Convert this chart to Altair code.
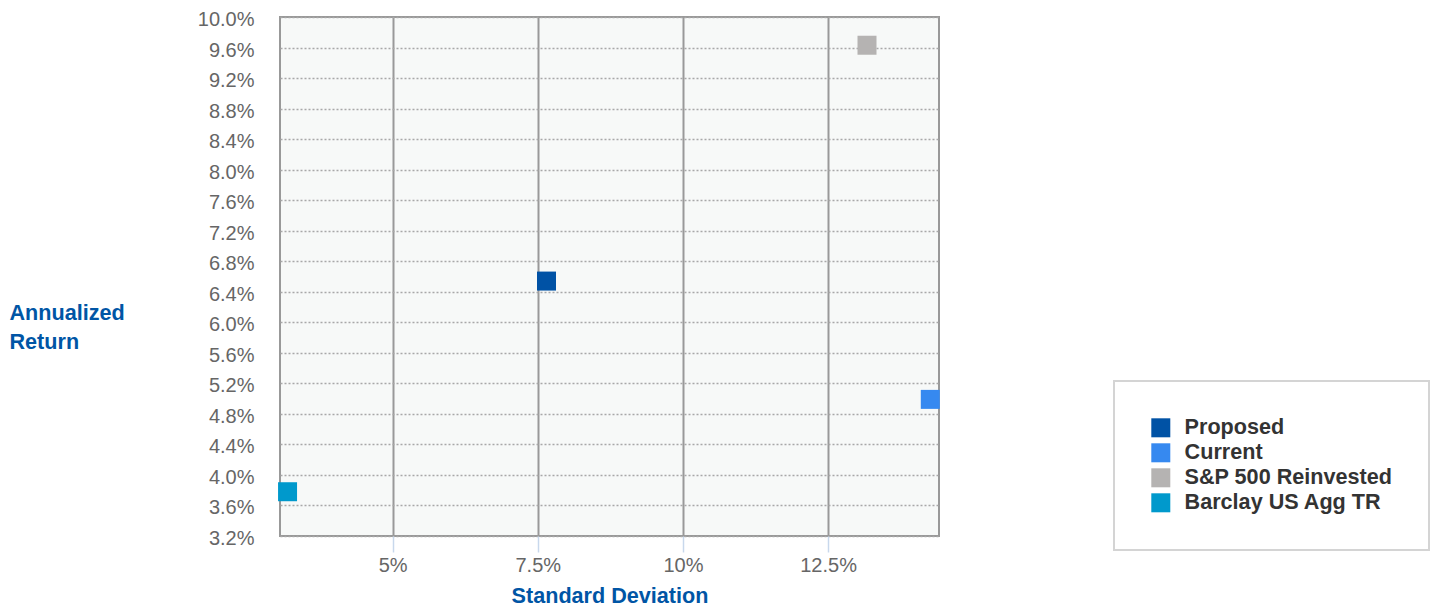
import altair as alt
import pandas as pd

names = ["Proposed", "Current", "S&P 500 Reinvested", "Barclay US Agg TR"]
std_dev = [7.65, 14.26, 13.17, 3.19]
annual_return = [6.54, 4.99, 9.63, 3.78]
colors = ["#0052A5", "#3689F0", "#B5B3B2", "#0099CC"]

y_ticks = [3.2, 3.6, 4.0, 4.4, 4.8, 5.2, 5.6, 6.0, 6.4, 6.8, 7.2, 7.6, 8.0,
           8.4, 8.8, 9.2, 9.6, 10.0]
x_ticks = [5, 7.5, 10, 12.5]

df = pd.DataFrame({"name": names, "sd": std_dev, "ret": annual_return})

FONT = "Liberation Sans"

chart = alt.Chart(df).mark_square(size=361, opacity=1, strokeWidth=0).encode(
    x=alt.X("sd:Q", scale=alt.Scale(domain=[3.06, 14.41], nice=False, zero=False),
            axis=alt.Axis(values=x_ticks, labelExpr="datum.value + '%'",
                          title="Standard Deviation", titleFont=FONT, titleFontSize=21.6,
                          titleFontWeight="bold", titleColor="#0055A5",
                          titleBaseline="alphabetic", titleY=66,
                          labelFont=FONT, labelFontSize=20, labelColor="#666666",
                          labelPadding=3, tickSize=16, tickColor="#C8D8EC", tickWidth=1.5,
                          domain=False, grid=True, gridColor="#999999", gridWidth=2)),
    y=alt.Y("ret:Q", scale=alt.Scale(domain=[3.2, 10.0], nice=False, zero=False),
            axis=alt.Axis(values=y_ticks, labelExpr="format(datum.value, '.1f') + '%'",
                          title=["Annualized", "Return"], titleFont=FONT, titleFontSize=21.6,
                          titleFontWeight="bold", titleColor="#0055A5", titleAngle=0,
                          titleAlign="left", titleBaseline="alphabetic", titleX=-271,
                          titleY=302, titleLineHeight=29,
                          labelFont=FONT, labelFontSize=20, labelColor="#666666",
                          labelPadding=26, labelOffset=2.5, ticks=False, domain=False,
                          grid=True, gridColor="#A8A8A8", gridWidth=1.5, gridDash=[2, 2])),
    color=alt.Color("name:N", scale=alt.Scale(domain=names, range=colors),
                    legend=alt.Legend(title=None, orient="none", legendX=834, legendY=364,
                                      symbolType="square", symbolSize=361,
                                      symbolStrokeWidth=0, symbolOpacity=1,
                                      labelFont=FONT, labelFontSize=21.6,
                                      labelFontWeight="bold", labelColor="#333333",
                                      labelOffset=13, rowPadding=2, padding=36,
                                      strokeColor="#D4D4D4", fillColor="#FFFFFF",
                                      labelLimit=400)),
).properties(
    width=659, height=519,
    autosize=alt.AutoSizeParams(type="none"),
    padding={"left": 280, "top": 17, "right": 514, "bottom": 71},
).configure_view(
    fill="#F7F9F8", stroke="#999999", strokeWidth=2
).configure_legend(strokeWidth=2)

chart.save("out.html", embed_options={"renderer": "svg", "actions": False})
